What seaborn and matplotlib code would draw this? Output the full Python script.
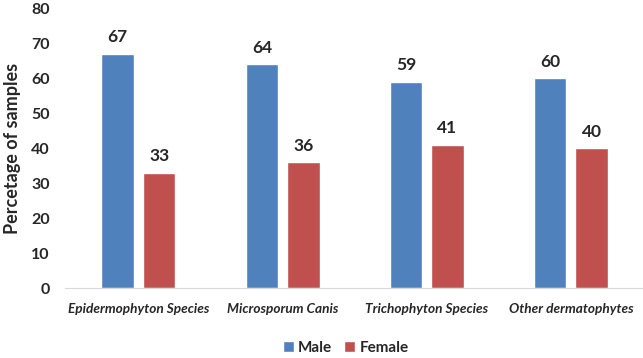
import matplotlib
matplotlib.use("Agg")
import matplotlib.pyplot as plt
import pandas as pd
import seaborn as sns

sns.set_style("white")
plt.rcParams['font.family'] = ['Lato', 'DejaVu Sans']

species = ["Epidermophyton Species", "Microsporum Canis",
           "Trichophyton Species", "Other dermatophytes"]
male = [67, 64, 59, 60]
female = [33, 36, 41, 40]
genders = ["Male", "Female"]
colors = ["#4F81BD", "#C0504D"]

df = pd.DataFrame({
    "species": species * 2,
    "pct": male + female,
    "gender": ["Male"] * len(species) + ["Female"] * len(species),
})

fig = plt.figure(figsize=(6.43, 3.58), dpi=100)
ax = fig.add_axes([0.101, 0.195, 0.899, 0.782])

sns.barplot(data=df, x="species", y="pct", hue="gender", hue_order=genders,
            palette=colors, width=0.576, gap=0.217, saturation=1, ax=ax)

for cont in ax.containers:
    ax.bar_label(cont, fmt="%d", padding=6, fontsize=12.5, fontweight="bold")

ax.set_ylim(0, 80)
ax.set_xlim(-0.51, 3.5)
ax.set_yticks(range(0, 81, 10))
ax.tick_params(axis="y", length=0, pad=11, labelsize=11.5)
ax.tick_params(axis="x", length=0, pad=11)
for lab in ax.get_yticklabels():
    lab.set_fontweight("bold")
for lab in ax.get_xticklabels():
    lab.set_fontweight("bold")
    lab.set_fontstyle("italic")
    lab.set_fontsize(9.8)

ax.set_xlabel("")
ax.set_ylabel("Percetage of samples", fontsize=13, fontweight="bold", labelpad=7)
sns.despine(ax=ax, left=True)
ax.spines["bottom"].set_color("#D9D9D9")

ax.legend(loc="center", bbox_to_anchor=(0.486, -0.212), ncol=2, frameon=False,
          handlelength=0.7, handleheight=0.7, handletextpad=0.3,
          columnspacing=0.8, prop={"size": 11, "weight": "bold"})

fig.savefig("out.png", dpi=100)
